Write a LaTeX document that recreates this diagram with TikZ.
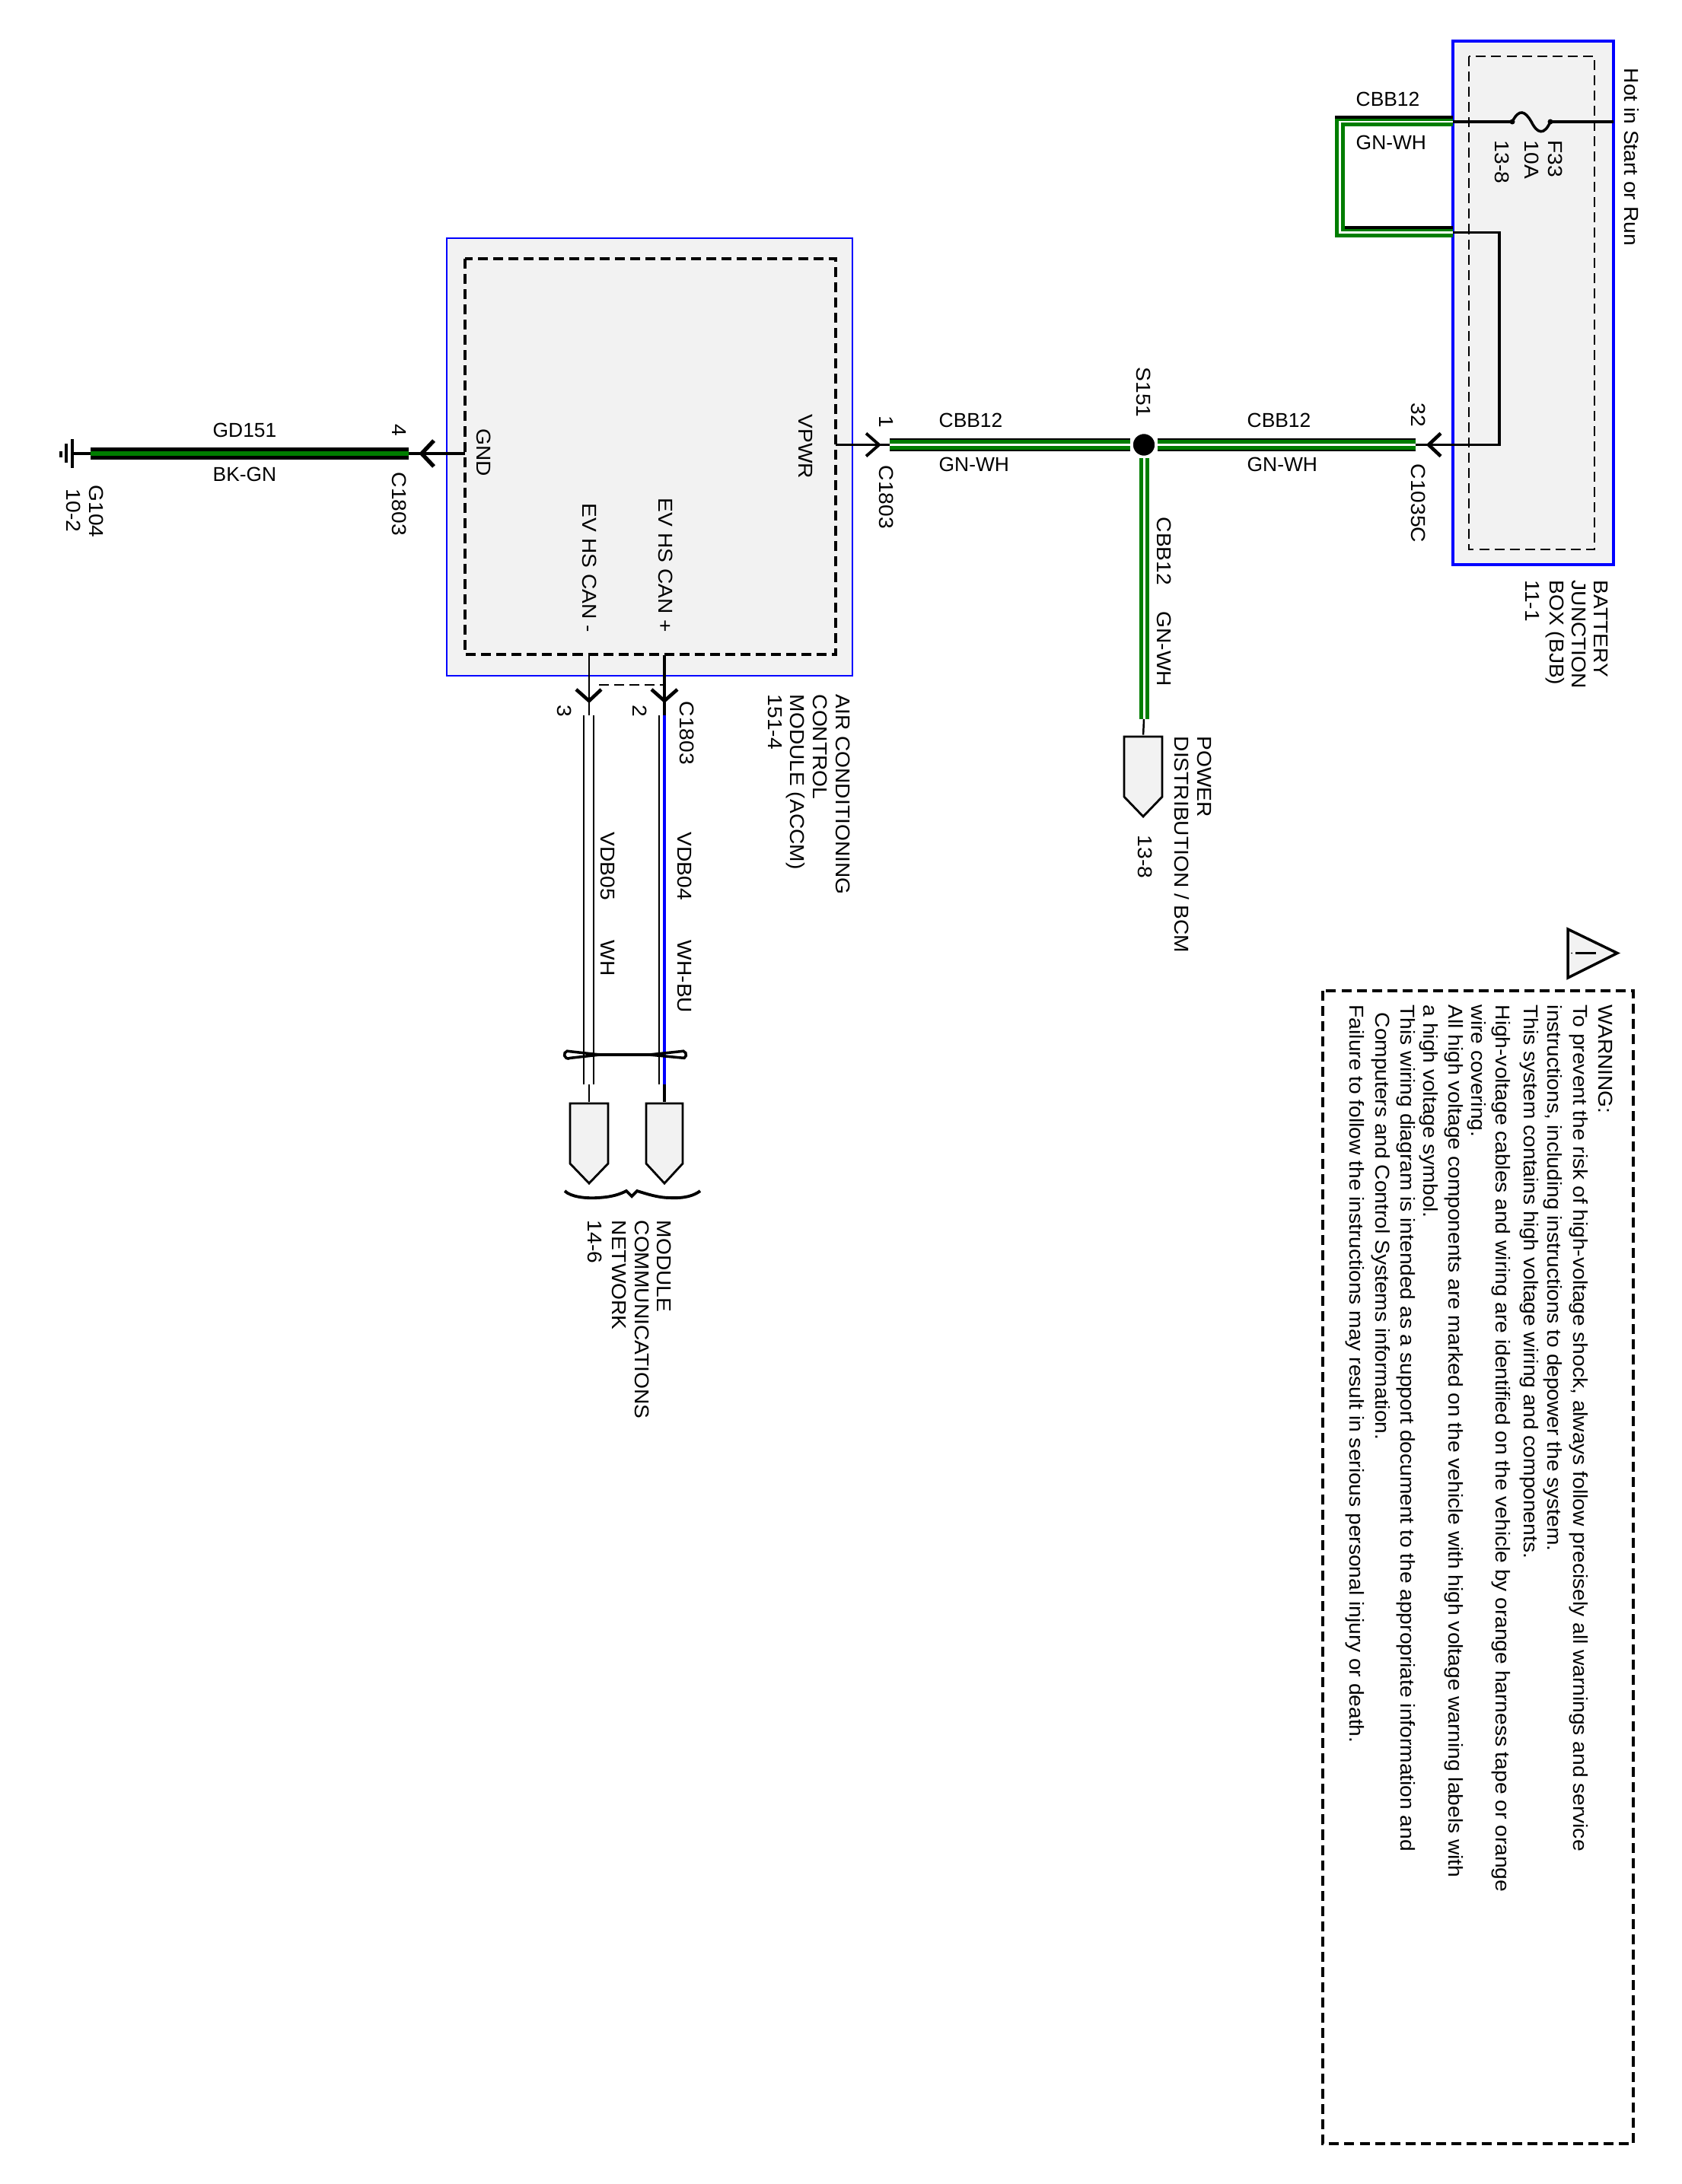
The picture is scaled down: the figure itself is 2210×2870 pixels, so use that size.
\documentclass[tikz,border=0pt]{standalone}
\usepackage{fontspec}
\setmainfont{Liberation Sans}
\definecolor{wiregreen}{RGB}{0,125,0}
\definecolor{boxgray}{RGB}{242,242,242}
\newcommand{\labelfont}{\fontsize{7.5pt}{9pt}\selectfont}
\tikzset{
  sidelabel/.style={rotate=-90,xscale=1.067,anchor=west,inner sep=0pt,font=\labelfont,text height=5.4pt,text depth=0pt},
  flatlabel/.style={anchor=west,inner sep=0pt,font=\labelfont,text height=5.4pt,text depth=0pt},
  blockbox/.style={draw=blue,fill=boxgray,inner sep=0pt},
  dashbox/.style={draw=black,dash pattern=on 3.7pt off 2pt},
  wirethin/.style={draw=black,line width=.7pt},
  wireheavy/.style={draw=black,line width=1pt},
  wireedge/.style={draw=black,line width=4.85pt},
  wiregnwh/.style={draw=wiregreen,line width=1.42pt,double=white,double distance=.85pt},
  pinarrow/.style={draw=black,line join=miter},
  ending/.style={draw=black,fill=boxgray,line width=.8pt,line join=miter}
}
\begin{document}
\begin{tikzpicture}[x=0.01cm,y=-0.01cm]
\useasboundingbox (0,0) rectangle (2210,2870);
%% boxes
\node (accm) at (853.5,600.5) [blockbox,line width=.6pt,minimum width=5.33cm,minimum height=5.75cm] {};
\node (bjb) at (2014.5,398) [blockbox,line width=1pt,minimum width=2.11cm,minimum height=6.88cm] {};
\draw[dashbox,line width=.9pt] (611,340) rectangle (1098,860);
\draw[dashbox,line width=.7pt] (1930,74) rectangle (2095,722);
\draw[dashbox,line width=1pt] (1738,1302) rectangle (2146,2817);
%% free ends of the wires
\foreach \nodename/\x/\y in {gndbar/95/596, gndend/119/596, gndpin/537/596, gndtip/554/596, gndin/611/596,
  vpwrin/1098/584.5, onetip/1155/584.5, onepin/1169/584.5, jbpin/1860/584.5, jbtip/1877/584.5, jbturn/1970/584.5,
  loopturn/1970/305.5, looptop/1909/160, loopbot/1909/305.5, loopleft/1760.5/160, loopdown/1760.5/305.5,
  hotend/2120/160, fuseleft/1987/160, fuseright/2037/160, edgetop/1754/154, edgetopend/1909/154,
  edgebot/1767/299, edgebotend/1909/299, pdend/1503/945, threein/774/861, threetip/774/921, threepin/774/940,
  threeout/774/1425, twoin/873/861, twotip/873/921, twopin/873/940, twoout/873/1425,
  twistleft/749/1381.7, twistright/894/1381.7, twistmidl/788/1386, twistmidr/853/1386} {
  \coordinate (\nodename) at (\x,\y);
}
%% splice and endings
\node (splice) at (1503,584.5) [circle,fill=black,draw=white,line width=1pt,minimum size=.32cm,inner sep=0pt] {};
\node (pdcap) at (1502,968) [inner sep=0pt] {};
\node (threecap) at (774,1450) [inner sep=0pt] {};
\node (twocap) at (873,1450) [inner sep=0pt] {};
\foreach \capname/\wd in {pdcap/25, threecap/25, twocap/24} {
  \draw[ending] ([shift={(-\wd,0)}]\capname.center) -- ([shift={(\wd,0)}]\capname.center)
    -- ([shift={(\wd,79)}]\capname.center) -- ([shift={(0,105)}]\capname.center)
    -- ([shift={(-\wd,79)}]\capname.center) -- cycle;
}
%% green wires
\path
\foreach \startnode/\endnode in {onepin/splice, jbpin/splice} {
  (\startnode) edge[wireedge] (\endnode)
  (\startnode) edge[wiregnwh] (\endnode)
};
\draw[wiregnwh] (splice) -- (pdend);
\draw[wirethin] (pdend) -- (pdcap);
\draw[wiregnwh,line join=miter] (looptop) -- (loopleft) -- (loopdown) -- (loopbot);
\draw[wireheavy] (edgetop) -- (edgetopend);
\draw[wireheavy] (edgebot) -- (edgebotend);
\draw[draw=black,line width=4.3pt] (gndend) -- (gndpin);
\draw[draw=wiregreen,line width=1.6pt] (gndend) -- (gndpin);
%% thin wires
\draw[wireheavy,line width=1.2pt] (gndbar) -- (gndend);
\draw[wireheavy,line width=1.2pt] (gndpin) -- (gndin);
\draw[wirethin] (vpwrin) -- (onepin);
\draw[wirethin] (loopbot) -- (loopturn);
\draw[wirethin] (jbpin) -- (jbturn);
\draw[wireheavy,line cap=rect] (loopturn) -- (jbturn);
\draw[wireheavy] (looptop) -- (fuseleft) .. controls (1996,142) and (2004,146) .. (2012,160)
  .. controls (2020,176) and (2029,178) .. (fuseright) -- (hotend);
\fill (fuseleft) circle (3.5);
\fill (fuseright) circle (3.5);
%% ground symbol
\draw[wireheavy] (95,577) -- (95,615);
\draw[wireheavy] (87,583) -- (87,608);
\draw[wireheavy] (80,593) -- (80,601);
%% CAN wires
\draw[wirethin] (threein) -- (threepin);
\draw[wirethin] (threeout) -- (threecap);
\draw[wireheavy,line width=1.1pt] (twoin) -- (twopin);
\draw[wireheavy,line width=1.1pt] (twoout) -- (twocap);
\draw[wirethin] ([shift={(-7,0)}]threepin) -- ([shift={(-7,0)}]threeout);
\draw[wirethin] ([shift={(6,0)}]threepin) -- ([shift={(6,0)}]threeout);
\draw[wirethin] ([shift={(-7,0)}]twopin) -- ([shift={(-7,0)}]twoout);
\draw[draw=blue,line width=.9pt] (twopin) -- (twoout);
\draw[dashbox,line width=.45pt] ([shift={(13,-40)}]threepin) -- ([shift={(0,-40)}]twopin);
%% connector arrows
\foreach \tipname/\ax/\ay/\bx/\by/\wd in {gndtip/16/-17/16/17/1.5pt, onetip/-17/-15/-17/15/1.1pt, jbtip/16/-15/16/15/1.3pt,
  threetip/-17/-15/16/-15/1.3pt, twotip/-17/-15/17/-15/1.3pt} {
  \draw[pinarrow,line width=\wd] ([shift={(\ax,\ay)}]\tipname) -- (\tipname) -- ([shift={(\bx,\by)}]\tipname);
}
%% twisted pair
\draw[wirethin,line width=1pt] (twistmidl) -- (twistleft) arc[start angle=-60,end angle=-300,radius=5] -- cycle;
\draw[wirethin,line width=1pt] (twistmidr) -- (twistright) arc[start angle=240,end angle=420,radius=5] -- cycle;
\draw[wireheavy,line width=1.3pt] (twistmidl) -- (twistmidr);
%% brace
\draw[wireheavy,line width=1.1pt] (742,1565) .. controls (750,1573) and (770,1575) .. (785,1574)
  .. controls (805,1573) and (815,1569) .. (823,1565) -- (830,1572) -- (837,1565)
  .. controls (850,1569) and (865,1574) .. (880,1574) .. controls (900,1575) and (912,1571) .. (920,1565);
%% warning triangle
\draw[ending,line width=1pt] (2060,1221) -- (2125,1252.5) -- (2060,1285) -- cycle;
\draw[wirethin] (2070,1252.5) -- (2097,1252.5);
\fill (2065,1252.5) circle (1);
%% flat labels
\foreach \nodename/\x/\y/\labeltext in {gdname/279/565/GD151, gdcolour/279/623/BK-GN,
  loopname/1781/130/CBB12, loopcolour/1781/187/GN-WH, leftname/1233/552.5/CBB12, leftcolour/1233/610/GN-WH,
  rightname/1638/552.5/CBB12, rightcolour/1638/610/GN-WH} {
  \node (\nodename) at (\x,\y) [flatlabel] {\labeltext};
}
%% side labels
\foreach \nodename/\x/\y/\labeltext in {gndtext/636/563/GND, vpwrtext/1059/544/VPWR, canplus/875/654/{EV HS CAN +}, canminus/775/661/{EV HS CAN -},
  pinfour/525/557/4, conngnd/525/620/C1803, gten/127/637/G104, gpage/97/642/10-2,
  pinone/1165/546/1, connone/1165/611/C1803, spliceid/1503/482/S151, pdname/1530/679/CBB12, pdcolour/1530/803/GN-WH,
  powera/1582.5/967/POWER, powerb/1552.6/967/{DISTRIBUTION / BCM}, powerc/1505/1097/13-8,
  pinjb/1864/529/32, connjb/1864/609/C1035C, fuseid/2044/184/F33, fuseamp/2012.5/184/10A, fusepage/1974/184/13-8,
  hottext/2143.6/89/{Hot in Start or Run}, bjba/2104/762/BATTERY, bjbb/2075/762/JUNCTION, bjbc/2046/762/{BOX (BJB)}, bjbd/2014/762/11-1,
  accma/1108/912/{AIR CONDITIONING}, accmb/1078/912/CONTROL, accmc/1048/912/{MODULE (ACCM)}, accmd/1019/912/151-4,
  pinthree/742/926/3, pintwo/841/926/2, conncan/903/921/C1803, vdbfive/799/1093/VDB05, vdbwh/799/1235/WH, vdbfour/900/1093/VDB04, vdbwhbu/900/1235/WH-BU,
  mcna/873/1603/MODULE, mcnb/844/1603/COMMUNICATIONS, mcnc/814/1603/NETWORK, mcnd/782/1603/14-6} {
  \node (\nodename) at (\x,\y) [sidelabel] {\labeltext};
}
%% warning text
\foreach \nodename/\x/\y/\labeltext in {warna/2110/1320/WARNING:,
  warnb/2077/1320/{To prevent the risk of high-voltage shock, always follow precisely all warnings and service},
  warnc/2043/1320/{instructions, including instructions to depower the system.},
  warnd/2012/1320/{This system contains high voltage wiring and components.},
  warne/1975/1320/{High-voltage cables and wiring are identified on the vehicle by orange harness tape or orange},
  warnf/1943/1320/{wire covering.},
  warng/1913/1320/{All high voltage components are marked on the vehicle with high voltage warning labels with},
  warnh/1880/1320/{a high voltage symbol.},
  warni/1850/1320/{This wiring diagram is intended as a support document to the appropriate information and},
  warnj/1817/1330/{Computers and Control Systems information.},
  warnk/1783/1320/{Failure to follow the instructions may result in serious personal injury or death.}} {
  \node (\nodename) at (\x,\y) [sidelabel] {\labeltext};
}
\end{tikzpicture}
\end{document}
